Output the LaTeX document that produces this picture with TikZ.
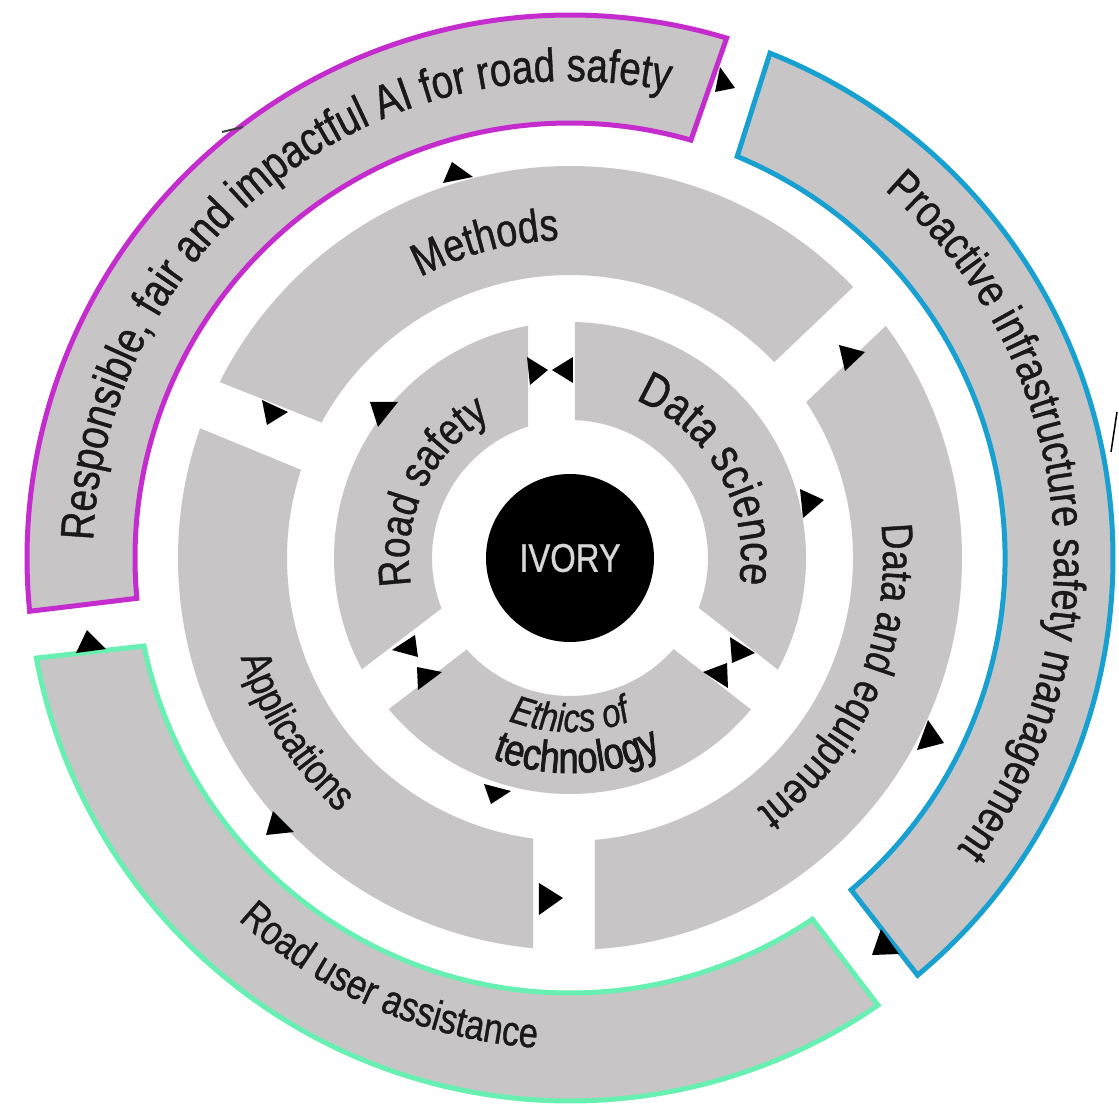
\documentclass[tikz,border=0pt]{standalone}
\usepackage{fontspec}
\setmainfont{Liberation Sans}
\newfontfamily\ringfont[FakeStretch=0.82,FakeBold=0.8]{Liberation Sans}
\newfontfamily\techfont[FakeStretch=0.82,FakeBold=1.8]{Liberation Sans}
\usetikzlibrary{decorations.text}
\definecolor{segfill}{RGB}{200,197,199}
\definecolor{magentaC}{RGB}{196,44,206}
\definecolor{blueC}{RGB}{24,160,208}
\definecolor{greenC}{RGB}{104,240,178}
\definecolor{ivorytext}{RGB}{215,215,215}
\definecolor{textC}{RGB}{25,25,25}
\newcommand{\myringfont}[1]{\ringfont\fontsize{#1}{#1}\selectfont}
\newcommand{\mytechfont}[1]{\techfont\fontsize{#1}{#1}\selectfont}
% ring segment: style, r_in, r_out, theta1, p1 (CW end), theta2, p2 (CCW end)
\newcommand{\ringseg}[7]{%
  \pgfmathsetmacro\sgOa{#4+asin(#5/#3)}%
  \pgfmathsetmacro\sgOb{#6+asin(#7/#3)}%
  \pgfmathsetmacro\sgIa{#4+asin(#5/#2)}%
  \pgfmathsetmacro\sgIb{#6+asin(#7/#2)}%
  \path[#1] (\sgOa:#3pt) arc[start angle=\sgOa, end angle=\sgOb, radius=#3pt]
     -- (\sgIb:#2pt) arc[start angle=\sgIb, end angle=\sgIa, radius=#2pt] -- cycle;}
% clockwise text (tops outward): radius, centre angle, half span, text
\newcommand{\cwtext}[4]{%
  \path[decorate,decoration={text along path,text align=center,text color=textC,text={#4}}]
    ({#2+#3}:#1pt) arc[start angle={#2+#3}, end angle={#2-#3}, radius=#1pt];}
% counter-clockwise text (tops inward)
\newcommand{\ccwtext}[4]{%
  \path[decorate,decoration={text along path,text align=center,text color=textC,text={#4}}]
    ({#2-#3}:#1pt) arc[start angle={#2-#3}, end angle={#2+#3}, radius=#1pt];}
\tikzset{
  inseg/.style={fill=segfill},
  outseg/.style={fill=segfill, line width=5pt, line join=miter},
  tri/.style={fill=black},
}
\begin{document}
\begin{tikzpicture}[x=1pt,y=1pt]
\fill[white] (-570,-548) rectangle (549,558);
\useasboundingbox (-570,-548) rectangle (549,558);

% inner ring
\ringseg{inseg}{138}{236}{-38}{40}{90}{-5}
\ringseg{inseg}{138}{236}{90}{42}{217.4}{-38}
\ringseg{inseg}{138}{236}{217.4}{10}{322}{-8}
% middle ring
\ringseg{inseg}{283}{392}{43.6}{1}{158.3}{-34}
\ringseg{inseg}{283}{392}{157.6}{21}{270}{-37}
\ringseg{inseg}{283}{392}{-90}{25}{43.8}{-51}
% outer ring
\ringseg{outseg,draw=magentaC}{435}{543}{70.7}{24}{186.9}{-12}
\ringseg{outseg,draw=blueC}{435}{543}{-52.1}{18}{72.4}{-38}
\ringseg{outseg,draw=greenC}{435}{543}{186.4}{40}{307.3}{-26}

% centre
\node[circle, fill=black, minimum size=168pt, inner sep=0pt, text=ivorytext,
      font={\myringfont{40}}] (ivory) at (0,0) {IVORY};

% texts
\cwtext{477}{128}{80}{|\myringfont{47}|Responsible, fair and impactful AI for road safety}
\cwtext{484}{6.3}{80}{|\myringfont{46}|Proactive infrastructure safety management}
\ccwtext{491}{246.8}{50}{|\myringfont{42}|Road user assistance}
\cwtext{318}{105}{50}{|\myringfont{46}|Methods}
\cwtext{313}{-23.6}{60}{|\myringfont{44}|Data and equipment}
\ccwtext{344}{212.3}{50}{|\myringfont{42}|Applications}
\cwtext{161}{154.7}{60}{|\myringfont{45}|Road safety}
\cwtext{171}{29.4}{60}{|\myringfont{48}|Data science}
\ccwtext{174}{270}{60}{|\myringfont{40}\itshape|Ethics of}
\ccwtext{215}{272}{60}{|\mytechfont{44}|technology}

% arrowheads (image coordinates)
\begin{scope}[shift={(-570,558)}, yscale=-1]
\fill[tri] (720,67) -- (735,88) -- (715,92) -- cycle;
\fill[tri] (452,162) -- (473,177) -- (443,183) -- cycle;
\fill[tri] (262,400) -- (288,412) -- (267,425) -- cycle;
\fill[tri] (370,402) -- (398,402) -- (378,427) -- cycle;
\fill[tri] (527,357) -- (548,370) -- (530,385) -- cycle;
\fill[tri] (552,370) -- (573,357) -- (573,383) -- cycle;
\fill[tri] (800,489) -- (824,500) -- (803,518) -- cycle;
\fill[tri] (839,345) -- (865,352) -- (845,371) -- cycle;
\fill[tri] (392,650) -- (415,635) -- (418,657) -- cycle;
\fill[tri] (417,667) -- (442,672) -- (418,690) -- cycle;
\fill[tri] (730,637) -- (755,653) -- (732,663) -- cycle;
\fill[tri] (703,672) -- (727,663) -- (728,688) -- cycle;
\fill[tri] (484,784) -- (511,791) -- (491,804) -- cycle;
\fill[tri] (273,811) -- (294,832) -- (266,835) -- cycle;
\fill[tri] (539,883) -- (563,898) -- (539,915) -- cycle;
\fill[tri] (87,630) -- (106,649) -- (76,653) -- cycle;
\fill[tri] (928,720) -- (944,743) -- (917,750) -- cycle;
\fill[tri] (881,929) -- (899,954) -- (872,955) -- cycle;
\draw[black!75, line width=2pt] (222,132) -- (243,127);
\draw[black, line width=1.5pt] (1111,452) -- (1117,412);
\end{scope}
\end{tikzpicture}
\end{document}
